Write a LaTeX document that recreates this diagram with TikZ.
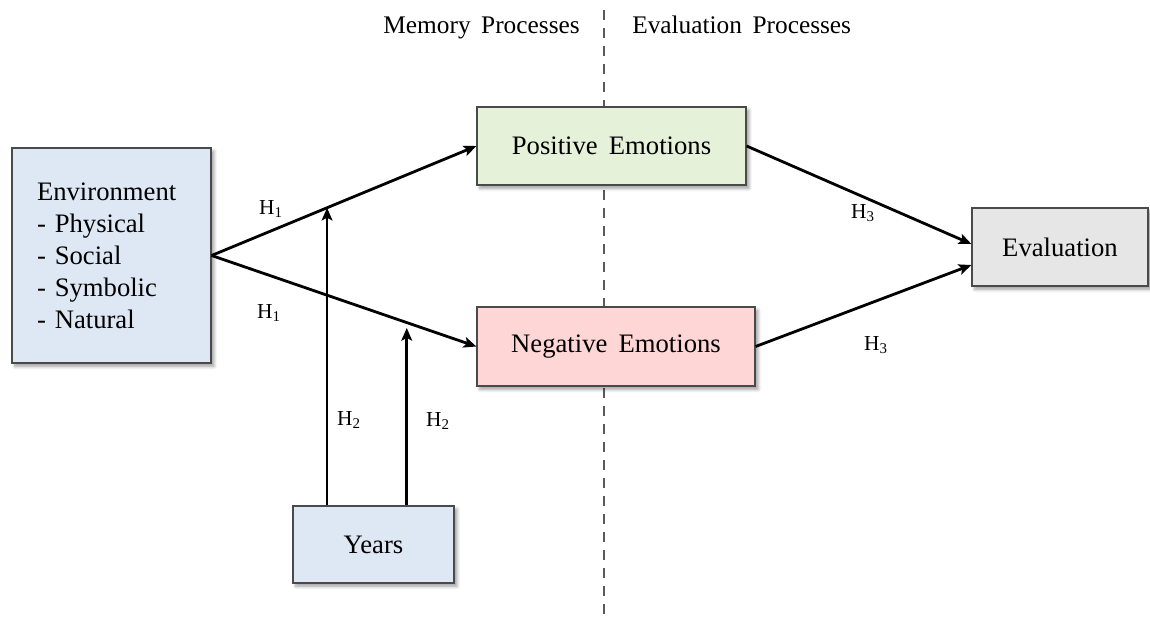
\documentclass[tikz,border=0pt]{standalone}
\usepackage{fontspec}
\setmainfont{Liberation Serif}
\usetikzlibrary{arrows.meta,calc,shadows.blur}
\definecolor{envblue}{HTML}{DEE8F4}
\definecolor{posgreen}{HTML}{E6F1D9}
\definecolor{negred}{HTML}{FFD6D6}
\definecolor{evgray}{HTML}{E6E6E6}
\definecolor{boxline}{HTML}{4A4A4A}
\definecolor{dashgray}{HTML}{5A5A5A}
\tikzset{
  box/.style={draw=boxline, line width=0.9pt, inner sep=0pt,
    font=\fontsize{20}{24}\selectfont,
    blur shadow={shadow xshift=2.2pt, shadow yshift=-2.4pt, shadow blur steps=6, shadow blur radius=2.5pt, shadow opacity=40}},
  conn/.style={line width=2.1pt, -{Stealth[length=9.5pt,width=8pt,inset=2pt]}},
  hlab/.style={font=\fontsize{16}{19}\selectfont, inner sep=0pt},
  head/.style={font=\fontsize{19}{23}\selectfont, inner sep=0pt},
}
\begin{document}
\begin{tikzpicture}[x=0.75pt,y=-0.75pt]
\useasboundingbox (0,0) rectangle (1150,618);
% divider
\draw[dashgray, line width=1.6pt, dash pattern=on 7.5pt off 6pt] (604,10) -- (604,618);
\node[head, anchor=base east] (memlab) at (580,33) {Memory\ \,Processes};
\node[head, anchor=base west] (evallab) at (632,33) {Evaluation\ \,Processes};
% boxes
\node[box, fill=envblue, minimum width=149.25pt, minimum height=161.25pt,
      text width=111.75pt, inner xsep=18.75pt, align=left] (env) at (111.5,255.5)
  {Environment\\- Physical\\- Social\\- Symbolic\\- Natural};
\node[box, fill=posgreen, minimum width=201.75pt, minimum height=58.5pt] (pos) at (611.5,146) {Positive\ \,Emotions};
\node[box, fill=negred, minimum width=208.5pt, minimum height=59.25pt] (neg) at (616,346.5) {Negative\ \,Emotions};
\node[box, fill=evgray, minimum width=132pt, minimum height=58.5pt] (eval) at (1060,247) {Evaluation};
\node[box, fill=envblue, minimum width=120.75pt, minimum height=57.75pt] (years) at (373.5,544.5) {Years};
% connectors
\draw[conn] (env.east) -- (pos.west);
\draw[conn] (env.east) -- (neg.west);
\draw[conn] (pos.east) -- ($(eval.west)+(0,-3)$);
\draw[conn] (neg.east) -- ($(eval.west)+(0,18)$);
\coordinate (m1) at ($(env.east)!0.436!(pos.west)$);
\coordinate (m2) at ($(env.east)!0.737!(neg.west)$);
\draw[conn] (years.north -| m1) -- (m1);
\draw[conn, shorten >=4pt] (years.north -| m2) -- (m2);
% labels
\node[hlab] (h1a) at (271,209) {H\textsubscript{1}};
\node[hlab] (h1b) at (269,313) {H\textsubscript{1}};
\node[hlab] (h2a) at (349,420) {H\textsubscript{2}};
\node[hlab] (h2b) at (438,421) {H\textsubscript{2}};
\node[hlab] (h3a) at (863,213) {H\textsubscript{3}};
\node[hlab] (h3b) at (876,345) {H\textsubscript{3}};
\end{tikzpicture}
\end{document}
